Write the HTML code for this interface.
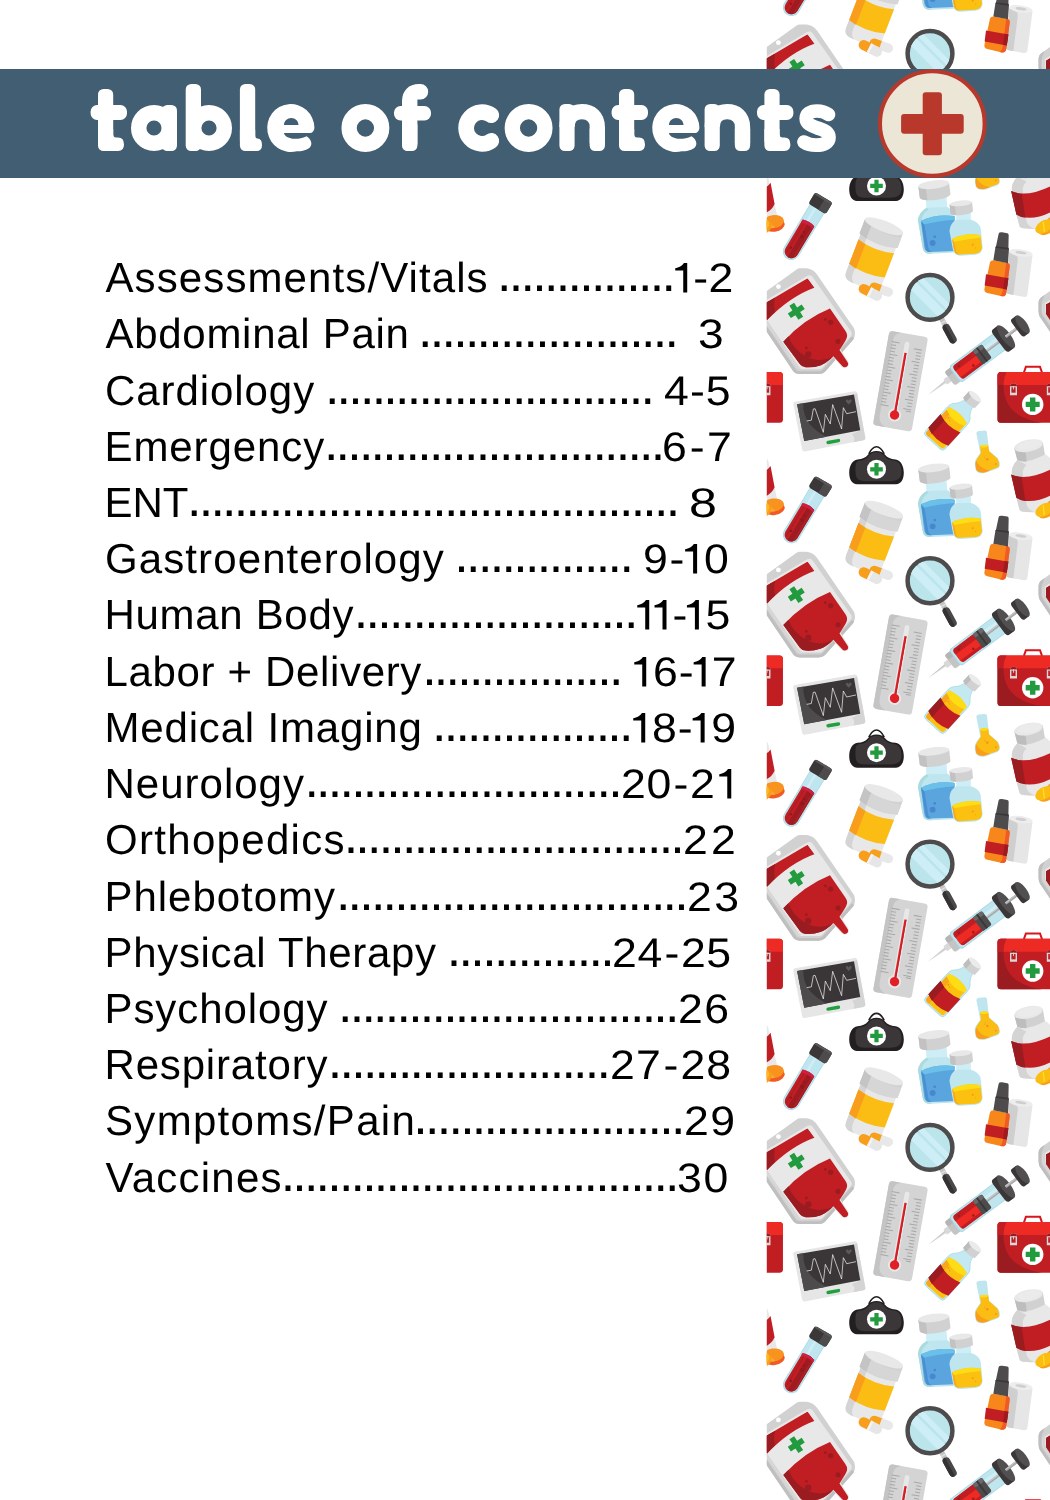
<!DOCTYPE html>
<html><head><meta charset="utf-8"><title>table of contents</title>
<style>
html,body{margin:0;padding:0;background:#fff;}
body{width:1050px;height:1500px;position:relative;overflow:hidden;font-family:"Liberation Sans",sans-serif;}
#strip{position:absolute;left:0;top:0;width:1050px;height:1500px;}
#bar{position:absolute;left:0;top:69px;width:1050px;height:109px;background:#425e73;}
#title{position:absolute;left:0;top:0;width:1050px;height:1500px;}
.ln{position:absolute;left:0;width:760px;height:60px;line-height:60px;font-size:41.3px;color:#000;white-space:pre;text-rendering:geometricPrecision;will-change:transform;}
.ln span{position:absolute;top:0;} .ln svg.one{display:inline;overflow:visible;fill:#000;} .ln i{font-style:normal;}
.ln .lb{font-size:42px;top:-0.24px;} .ln .dt{font-size:52px;top:-3.7px;} .ln .nm{transform:scaleX(1.08);transform-origin:0 0;}
</style></head><body>
<svg id="strip" width="1050" height="1500" viewBox="0 0 1050 1500">
<defs><clipPath id="sc"><rect x="766.8" y="100" width="283.4" height="1400"/></clipPath>
<clipPath id="sct"><rect x="766.8" y="0" width="283.4" height="100"/></clipPath>
<g id="tile">
<!-- blood bag; W4 origin (760,255) -->
<g transform="translate(760,255) scale(0.133333)">
<path d="M-36 355Q-34 332 -20 320L272 110Q285 100 300 100L350 100Q400 105 430 150L705 550Q716 575 710 610Q706 628 695 640L488 875Q470 892 440 893L295 893Q268 893 252 875L-25 465Q-35 450 -36 420Z" fill="#d1d1d1"/>
<!-- darker lower-left / bottom rim -->
<path d="M-36 355Q-34 332 -20 320L10 298L-10 350Q-14 365 -14 420Q-14 440 -8 450L272 860Q282 872 300 872L438 872Q458 872 470 860L690 612L706 625Q702 633 695 640L488 875Q470 892 440 893L295 893Q268 893 252 875L-25 465Q-35 450 -36 420Z" fill="#bfbfbf"/>
<!-- light inner -->
<path d="M-6 370L350 159Q375 145 392 162L685 577Q693 595 679 612L466 850Q458 857 440 857L300 857Q285 857 277 845L-2 440Q-6 432 -6 420Z" fill="#e8e8e8"/>
<path d="M-6 370L14 358L14 420Q14 430 18 437L292 838Q298 845 310 845L300 857Q285 857 277 845L-2 440Q-6 432 -6 420Z" fill="#d6d6d6"/>
<clipPath id="bbc"><path d="M20 372L357 174L646 578L300 860L20 440Z"/></clipPath>
<!-- top red band -->
<g clip-path="url(#bbc)">
<path d="M-40 410Q170 255 357 174L412 243Q225 310 53 488L0 560Z" fill="#c11e24"/>
<path d="M-40 410Q40 350 114 318Q100 370 112 428Q80 458 53 488L0 560Z" fill="#9b1c20"/>
</g>
<!-- outlet outline -->
<path d="M585 700L650 800Q662 822 645 833Q628 842 615 825L545 745Z" fill="none" stroke="#e4e4e4" stroke-width="22" stroke-linejoin="round"/>
<!-- blood -->
<path d="M175 650Q330 480 525 402L640 568Q662 600 648 628Q640 648 596 713L657 805Q668 825 650 838Q630 848 615 830L550 760Q500 810 457 826Q400 846 343 842Q315 840 300 820Z" fill="#c11e24"/>
<path d="M175 650L214 610Q240 680 286 718Q330 760 400 782Q470 800 545 765L550 760Q500 810 457 826Q400 846 343 842Q315 840 300 820Z" fill="#9b1c20"/>
<circle cx="490" cy="483" r="11" fill="#9b1c20"/><circle cx="530" cy="505" r="20" fill="#9b1c20"/><circle cx="585" cy="648" r="19" fill="#9b1c20"/><circle cx="348" cy="698" r="11" fill="#9b1c20"/><circle cx="362" cy="745" r="24" fill="#9b1c20"/>
<!-- cross -->
<g transform="translate(272,422) rotate(-33)"><path d="M-21 -62H21V-21H62V21H21V62H-21V21H-62V-21H-21Z" fill="#229a3e"/></g>
<circle cx="138" cy="237" r="18" fill="#fff"/>
</g>

<!-- test tube -->
<g transform="translate(823.9,197.4) rotate(31)">
<path d="M-8.6 8V63A8.6 8.6 0 0 0 8.6 63V8Z" fill="#a9dbe8"/>
<path d="M-7.8 8V63A7.8 7.8 0 0 0 7.8 63V8Z" fill="#bfe6ef"/>
<path d="M-3.2 8H-0.6V30H-3.2Z" fill="#cdeef6"/>
<path d="M-6.8 30Q0 27.5 6.8 30V63A6.8 6.8 0 0 1 -6.8 63Z" fill="#c01e24"/>
<path d="M-0.5 28.8Q3 28.8 6.8 30V63A6.8 6.8 0 0 1 -0.5 69.7Z" fill="#9e1c21"/>
<path d="M-6.8 30Q0 27.5 6.8 30V33Q0 30.5 -6.8 33Z" fill="#d4204a" opacity=".85"/>
<path d="M-3.8 33V67" stroke="#a81e24" stroke-width="1.1" fill="none"/>
<path d="M5.2 33V66" stroke="#b3222a" stroke-width="1.2" fill="none"/>
<circle cx="1.5" cy="45" r="1.9" fill="#8e181c"/><circle cx="1" cy="40" r="1.1" fill="#8e181c"/><circle cx="-2.5" cy="60" r="1.2" fill="#8e181c"/>
<rect x="-10.2" y="0" width="20.4" height="13.4" rx="2.8" fill="#3b3738"/>
<path d="M1.5 0H7.4A2.8 2.8 0 0 1 10.2 2.8V10.6A2.8 2.8 0 0 1 7.4 13.4H1.5Z" fill="#4d4b4b"/>
<path d="M-7.4 0.3H7.4Q9.4 0.8 9.9 2.2H-9.9Q-9.4 0.8 -7.4 0.3Z" fill="#5a5858"/>
</g>

<!-- nurse cap / bag : centre x 876.5, circle centre y 469.3 -->
<g transform="translate(876.5,469.3)">
<path d="M-7.7 -15.5C-6 -19 -3.5 -22.6 0 -22.6C3.5 -22.6 6 -19 7.7 -15.5" fill="none" stroke="#231f20" stroke-width="1.6"/>
<path d="M0 -18.2C4 -18.2 6.5 -17 8.5 -14.5C11 -11.5 14 -10.3 19 -9.8C24.5 -9 27.3 -3 27.3 3.5C27.3 10 24.5 15 19.5 15H-19.5C-24.5 15 -27.3 10 -27.3 3.5C-27.3 -3 -24.5 -9 -19 -9.8C-14 -10.3 -11 -11.5 -8.5 -14.5C-6.5 -17 -4 -18.2 0 -18.2Z" fill="#231f20"/>
<path d="M0 -17C4 -17 6 -15.5 8 -13C10.5 -10 14 -9 18.5 -8.5C23 -8 25 -3 25 2.5C25 8 22 11.3 16 11.6C8 12 -8 12 -14 11.6C-19 11.3 -21 8 -21 2.5C-21 -3 -21.5 -8 -17.5 -8.5C-13 -9 -10.5 -10 -8 -13C-6 -15.5 -4 -17 0 -17Z" fill="#3b3738"/>
<circle r="9.5" fill="#fff"/>
<path d="M-2.1 -6.3H2.1V-2.1H6.3V2.1H2.1V6.3H-2.1V2.1H-6.3V-2.1H-2.1Z" fill="#229a3e"/>
</g>

<!-- yellow pill bottle ; local frame: origin at centre of cap top ellipse, rotated 21deg -->
<g transform="translate(884,226.3) rotate(21)">
<!-- capsules (behind bottom) drawn later -->
<!-- body -->
<path d="M-19 14V56Q-19 63 -12 63.6Q0 65 12 63.6Q19 63 19 56V14Z" fill="#e8e8e8"/>
<path d="M-19 14V56Q-19 63 -12 63.6Q-9 64 -7.5 64.1Q-12 62 -12 55V14Z" fill="#d4d4d4"/>
<!-- label -->
<path d="M-19 21.5Q0 27 19 21.5V47.5Q0 53 -19 47.5Z" fill="#fbbc13"/>
<path d="M-19 21.5Q-15 22.8 -11 23.5V49.6Q-15 48.8 -19 47.5Z" fill="#f99d1c"/>
<!-- cap -->
<path d="M-20.3 0V15.5Q0 22 20.3 15.5V0Z" fill="#d1d1d1"/>
<path d="M-20.3 0V15.5Q-16 17 -12 17.7V4Z" fill="#c4c4c4"/>
<path d="M-12 6.5Q-12 3.5 -8 4.5Q4 7.5 20.3 5V15.5Q4 20.5 -12 17.7Z" fill="#d6d6d6"/>
<ellipse cx="0" cy="0" rx="20.3" ry="5.6" fill="#e8e8e8"/>
</g>
<!-- capsules -->
<g transform="translate(881.3,289.6) rotate(19)">
<path d="M0 -4.6H-7.6A4.6 4.6 0 0 0 -7.6 4.6H0Z" fill="#f7a11a"/>
<path d="M-1 -4.6H7.6A4.6 4.6 0 0 1 7.6 4.6H-1Z" fill="#e8e8e8"/>
</g>
<g transform="translate(870.3,292.3) rotate(27)">
<path d="M0 -5H-7.5A5 5 0 0 0 -7.5 5H0Z" fill="#f99d1c"/>
<path d="M-1.5 -5H7.5A5 5 0 0 1 7.5 5H-1.5Z" fill="#e6e6e6"/>
<path d="M-1.5 -5H1V5H-1.5Z" fill="#f4f4f4"/>
</g>

<!-- big blue vial ; W3 origin (910,175) scale 1/7.5 -->
<g transform="translate(910,175) scale(0.133333)">
<!-- neck -->
<path d="M118 165L272 150L282 262L125 275Z" fill="#cdeef6"/>
<!-- body -->
<path d="M125 245Q65 280 60 340L95 545Q100 590 150 590L330 582L330 290Q300 250 282 240Z" fill="#bfe6ef"/>
<path d="M125 245Q65 280 60 340L95 545Q100 590 150 590L175 589Q125 585 118 540L85 345Q90 290 140 258Z" fill="#a9dbe0"/>
<!-- liquid -->
<path d="M82 345Q200 290 335 310L335 570L150 577Q112 577 107 540Z" fill="#5aa5de"/>
<path d="M82 345Q200 290 335 310L335 335Q200 345 88 375Z" fill="#6bc0ea"/>
<path d="M82 345L88 375L118 555Q122 577 150 577L165 576Q140 570 136 540L108 372Z" fill="#4a8fd3"/>
<circle cx="170" cy="510" r="22" fill="#4a86d0"/><circle cx="186" cy="463" r="10" fill="#4a86d0"/>
<!-- cap -->
<g transform="translate(178,72) rotate(-7)">
<path d="M-116 0V84A116 32 0 0 0 116 84V0Z" fill="#d1d1d1"/>
<path d="M-116 0V84A116 32 0 0 0 -62 111V26Z" fill="#c2c2c2"/>

<ellipse rx="116" ry="31" fill="#e8e8e8"/>
</g>
</g>
<!-- small yellow vial -->
<g transform="translate(910,175) scale(0.133333)">
<path d="M345 280L455 275L458 355L348 360Z" fill="#cdeef6"/>
<path d="M348 335Q300 360 296 420L322 560Q330 605 380 605L490 598Q540 590 545 545L530 400Q520 355 458 335Z" fill="#bfe6ef"/>
<path d="M316 480Q420 430 528 452L540 545Q535 585 490 590L380 596Q338 596 330 560Z" fill="#fcc010"/>
<path d="M316 480Q420 430 528 452L530 470Q420 480 330 500Z" fill="#ffdd15"/>
<path d="M316 480L330 500L345 565Q350 594 380 596L362 596Q336 590 330 560Z" fill="#f9a61a"/>
<circle cx="470" cy="523" r="7" fill="#f7931e"/><circle cx="492" cy="548" r="4" fill="#f7931e"/>
<g transform="translate(381,212) rotate(-6)">
<path d="M-85 0V66A85 22 0 0 0 85 66V0Z" fill="#d1d1d1"/>
<path d="M-85 0V66A85 22 0 0 0 -45 85V18Z" fill="#c2c2c2"/>
<ellipse rx="85" ry="21" fill="#e8e8e8"/>
</g>
</g>

<!-- bandage roll behind dropper; W3 origin (910,175) -->
<g transform="translate(910,175) scale(0.133333)">
<path d="M745 580Q750 555 790 555L880 572Q920 580 918 610L880 900Q876 918 850 914L740 893Q720 890 724 870Z" fill="#e6e6e6"/>
<path d="M745 580L724 870Q720 890 740 893L775 900L808 640Q812 610 790 600Z" fill="#cfcfcf"/>
<ellipse cx="832" cy="584" rx="88" ry="26" transform="rotate(8 832 584)" fill="#ededed"/>
<ellipse cx="832" cy="582" rx="42" ry="11" transform="rotate(8 832 582)" fill="#cfcfcf"/>
<!-- dropper bottle -->
<path d="M600 655Q605 640 625 640L735 660Q750 665 748 685L722 885Q718 912 690 910L580 885Q555 878 558 855Z" fill="#f7871a"/>
<path d="M735 660Q750 665 748 685L722 885Q718 912 690 910L672 906Q690 900 694 870L722 658Z" fill="#f15a24"/>
<path d="M570 745L738 775L726 858L560 828Z" fill="#c11e24"/>
<path d="M710 770L738 775L726 858L698 853Z" fill="#9b1c20"/>
<path d="M665 440Q668 428 690 430L730 437Q742 440 740 455L738 545L742 560L735 662L625 640L640 545L645 535Z" fill="#4d4b4b"/>
<path d="M645 535L640 545L742 560L738 545Z" fill="#3b3738"/>
</g>

<!-- red pill bottle at right edge (instance at y 440-511); origin (990,430) scale .06 -->
<g transform="translate(990,430) scale(0.06)">
<path d="M455 500C400 560 365 620 362 700L440 1130L490 1320Q500 1365 600 1365Q900 1385 1150 1330Q1195 1320 1190 1280L1169 1122L1029 525Q1010 450 915 400Z" fill="#e8e8e8"/>
<path d="M455 500C400 560 365 620 362 700L440 1130L490 1320Q500 1365 600 1365L760 1372Q640 1340 610 1250L545 720Q545 640 610 585Z" fill="#d4d4d4"/>
<path d="M352 740Q520 815 760 755Q900 715 1004 662Q1040 640 1065 602L1132 955Q1090 1050 1004 1095Q800 1200 590 1182Q500 1172 440 1130Z" fill="#c11e24"/>
<path d="M352 740Q440 778 528 785L590 1182Q500 1172 440 1130Z" fill="#9b1c20"/>
<!-- cap -->
<path d="M405 300L455 500Q620 570 915 410L880 200Z" fill="#d1d1d1"/>
<path d="M405 300L455 500Q520 528 610 528L600 400Q590 370 560 360Z" fill="#bdbdbd"/>
<ellipse cx="642" cy="262" rx="242" ry="100" transform="rotate(-11 642 262)" fill="#e8e8e8"/>
<ellipse cx="660" cy="250" rx="200" ry="75" transform="rotate(-11 660 250)" fill="#ebebeb"/>
</g>
<!-- orange pill (behind) -->
<g transform="translate(1056.7,505) rotate(-8)">
<ellipse cx="0.3" cy="3.6" rx="10.6" ry="6.5" fill="#f15a24"/>
<ellipse cx="0" cy="0" rx="10.6" ry="6.5" fill="#f7931e"/>
<path d="M-7 -4.5L1 6.3L-2.5 6.4L-9 -3Z" fill="#fbb03b" opacity=".8"/>
</g>
<!-- yellow pill (front) -->
<g transform="translate(1043.9,510) rotate(-33)">
<ellipse cx="1.6" cy="2.6" rx="9.4" ry="6" fill="#f99d1c"/>
<ellipse cx="0" cy="0" rx="9.4" ry="6" fill="#fbbc13"/>
</g>
<path d="M1042.6 505.3L1043.9 505.1L1045 515L1043.7 515.4Z" fill="#ffe01a"/>

<!-- magnifier -->
<g transform="translate(930,297.4)">
<g transform="rotate(-28.5)">
<rect x="-2.6" y="23" width="5.2" height="9" fill="#c4c4c4"/>
<rect x="-2.6" y="27.3" width="5.2" height="1.4" fill="#e0e0e0"/>
<rect x="-3.8" y="30.8" width="7.6" height="21" rx="3.7" fill="#4a4848"/>
<path d="M0.3 30.8H-0.1A3.7 3.7 0 0 0 -3.8 34.5V48.1A3.7 3.7 0 0 0 -0.1 51.8H0.3Z" fill="#353233"/>
</g>
<circle r="22.4" fill="#bbe4eb" stroke="#4d4b4b" stroke-width="4.5"/>
<clipPath id="mgc"><circle r="20.2"/></clipPath>
<g clip-path="url(#mgc)" transform="rotate(45)">
<rect x="-30" y="-1" width="60" height="9" fill="#cdeef6"/>
<rect x="-30" y="-9" width="60" height="5.5" fill="#cdeef6"/>
</g>
</g>

<!-- thermometer -->
<g transform="translate(900.5,381.2) rotate(10)">
<rect x="-19.6" y="-47.9" width="39.2" height="95.8" rx="3.5" fill="#d4d4d4"/>
<path d="M-16.1 -47.9H-8Q-14 -46 -14.5 -40V38Q-14.5 45 -7 47.9H-16.1A3.5 3.5 0 0 1 -19.6 44.4V-44.4A3.5 3.5 0 0 1 -16.1 -47.9Z" fill="#c4c4c4"/>
<rect x="-2.4" y="-40" width="4.8" height="74" rx="2.4" fill="#e8e8e8"/>
<circle cx="0" cy="34.3" r="6.6" fill="#e8e8e8"/>
<rect x="-1.05" y="-28.7" width="2.1" height="62" fill="#e01f26"/>
<rect x="0.2" y="-28.7" width="0.85" height="62" fill="#c11e24"/>
<circle cx="0" cy="34.3" r="4.7" fill="#e01f26"/>
<g stroke="#a8a8a8" stroke-width="1.05" fill="none">
<path d="M-15.5 -37.5H-7.5M-15.5 -34.3H-10.5M-15.5 -31.1H-10.5M-15.5 -27.9H-10.5M-15.5 -24.7H-7.5M-15.5 -21.5H-10.5M-15.5 -18.3H-10.5M-15.5 -15.1H-10.5M-15.5 -11.9H-7.5M-15.5 -8.7H-10.5M-15.5 -5.5H-10.5M-15.5 -2.3H-10.5M-15.5 0.9H-7.5M-15.5 4.1H-10.5M-15.5 7.3H-10.5M-15.5 10.5H-10.5M-15.5 13.7H-7.5M-15.5 16.9H-10.5M-15.5 20.1H-10.5M-15.5 23.3H-10.5M-15.5 26.5H-7.5"/>
<path d="M15.5 -34.3H7.5M15.5 -31.1H10.5M15.5 -27.9H10.5M15.5 -24.7H10.5M15.5 -21.5H7.5M15.5 -18.3H10.5M15.5 -15.1H10.5M15.5 -11.9H10.5M15.5 -8.7H7.5M15.5 -5.5H10.5M15.5 -2.3H10.5M15.5 0.9H10.5M15.5 4.1H7.5M15.5 7.3H10.5M15.5 10.5H10.5M15.5 13.7H10.5M15.5 16.9H7.5M15.5 20.1H10.5M15.5 23.3H10.5M15.5 26.5H7.5M15.5 28.5H10.5"/>
</g>
</g>

<!-- syringe: tip at (928,395) axis angle -36.8 -->
<g transform="translate(928,395) rotate(-36.8)">
<path d="M0 0L24 -1.4V1.4Z" fill="#dcdcdc"/>
<path d="M0 0L24 -1.4V0Z" fill="#c8c8c8"/>
<rect x="21.5" y="-3.2" width="7" height="6.4" rx="1" fill="#d9d9d9"/>
<rect x="27" y="-8.6" width="11" height="17.2" rx="2.5" fill="#c4c4c4"/>
<rect x="27" y="-8.6" width="11" height="6" rx="2.5" fill="#b5b5b5"/>
<!-- barrel -->
<path d="M36 -10.4Q33.5 -10 33.5 -6V6Q33.5 10 36 10.4H95V-10.4Z" fill="#a9dbe8"/>
<path d="M36.6 -9.5Q34.4 -9 34.4 -5.5V5.5Q34.4 9 36.6 9.5H95V-9.5Z" fill="#bfe6ef"/>
<rect x="60" y="-5" width="35" height="3.5" fill="#cdeef6"/>
<!-- rod -->
<rect x="70" y="-1.3" width="40" height="2.6" fill="#a8a8a8"/>
<rect x="70" y="-1.3" width="40" height="1.1" fill="#c8c8c8"/>
<!-- liquid -->
<path d="M39 -8.2Q36.3 -7.8 36.3 -4.5V4.5Q36.3 7.8 39 8.2H65V-8.2Z" fill="#ee2a24"/>
<path d="M39 -8.2Q36.3 -7.8 36.3 -4.5V-2.5H65V-8.2Z" fill="#c11e24"/>
<path d="M37 5.2H65V8.2H39Q37.2 7.8 37 5.2Z" fill="#c11e24"/>
<circle cx="42" cy="-5" r="1.3" fill="#9b1c20"/><circle cx="44.5" cy="-6.2" r="0.7" fill="#9b1c20"/><circle cx="54" cy="3.5" r="1.3" fill="#9b1c20"/>
<!-- plunger head -->
<rect x="62" y="-8.6" width="11.5" height="17.2" rx="2" fill="#4d4b4b"/>
<rect x="62" y="-8.6" width="11.5" height="4.5" rx="2" fill="#6a6868"/>
<rect x="66.5" y="-8.6" width="1.8" height="17.2" fill="#3b3738"/>
<!-- flange -->
<path d="M91.5 -13.8H97.5V13.8H91.5Q88.5 13.8 88.5 9.5V-9.5Q88.5 -13.8 91.5 -13.8Z" fill="#3b3738"/>
<ellipse cx="97.5" cy="0" rx="4.6" ry="13.8" fill="#514f4f"/>
<rect x="97" y="-1.3" width="16" height="2.6" fill="#a8a8a8"/>
<rect x="97" y="-1.3" width="16" height="1.1" fill="#c8c8c8"/>
<!-- thumb -->
<path d="M113 -10.8H118V10.8H113Q110.3 10.8 110.3 7V-7Q110.3 -10.8 113 -10.8Z" fill="#3b3738"/>
<ellipse cx="118" cy="0" rx="4.2" ry="10.8" fill="#514f4f"/>
</g>

<!-- first aid kit: x 997.5..1065.2, y 372.1..422.7 -->
<g>
<path d="M1023.9 372.5L1025.9 366.8H1040L1042 372.5" fill="none" stroke="#d7161e" stroke-width="2"/>
<rect x="997.5" y="372.1" width="68.8" height="50.6" rx="3.5" fill="#c11e24"/>
<path d="M1001 372.1H1062.8A3.5 3.5 0 0 1 1066.3 375.6V385H997.5V375.6A3.5 3.5 0 0 1 1001 372.1Z" fill="#ee2a24"/>
<path d="M997.5 375.6A3.5 3.5 0 0 1 1001 372.1H1006.5Q1003.5 378 1003.5 385H997.5Z" fill="#c11e24"/>
<path d="M997.5 385H1003.5Q1003.5 412 1030 420Q1036 422 1042 422.7H1001A3.5 3.5 0 0 1 997.5 419.2Z" fill="#9b1c20"/>
<!-- latches -->
<g id="latch"><path d="M1010 386.5Q1010 383.3 1013.5 383.3Q1017 383.3 1017 386.5V395.2H1010Z" fill="#d9d9d9"/>
<path d="M1010 386.2Q1010 383.3 1013.5 383.3Q1017 383.3 1017 386.2Z" fill="#9b1c20"/>
<rect x="1011.4" y="387.3" width="4.2" height="5.4" fill="#c11e24"/><rect x="1013.1" y="386" width="0.9" height="3.4" fill="#d9d9d9"/></g>
<use href="#latch" x="36.8"/>
<circle cx="1032.7" cy="404.4" r="10.7" fill="#fff"/>
<path d="M1030 397.4H1035.4V401.7H1039.7V407.1H1035.4V411.4H1030V407.1H1025.7V401.7H1030Z" fill="#229a3e"/>
</g>

<!-- monitor; W7 origin (760,345) -->
<g transform="translate(760,345) scale(0.133333)">
<path d="M262 425L708 347Q725 344 728 360L790 695Q792 712 776 715L335 798Q320 800 316 785L250 445Q248 428 262 425Z" fill="#e6e6e6"/>
<path d="M728 360L790 695Q792 712 776 715L700 729Q720 700 690 670L752 640L705 372L728 360Z" fill="#d4d4d4"/>
<path d="M278 445L705 372L752 640L332 720Z" fill="#3a3637"/>
<path d="M278 445L325 437Q320 520 370 590Q420 650 500 688L332 720Z" fill="#4d4b4b"/>
<path d="M350 570L385 564L400 480L413 478L475 655L490 520L527 592L545 447L612 630L625 470L650 515L720 500" fill="none" stroke="#fff" stroke-width="5" stroke-linejoin="miter"/>
<path d="M665 446L645 425Q640 410 652 408Q662 408 664 418Q668 406 680 406Q692 410 686 425Z" fill="#5a5858"/>
<rect x="497" y="711" width="105" height="26" rx="13" transform="rotate(-10 549 724)" fill="#22a040"/>
</g>

<!-- yellow/red bottle -->
<g transform="translate(972,399.7) rotate(42.3)">
<path d="M-5.5 4C-6 10 -9 13 -11.5 15.5Q-13.4 18 -13.4 22V54Q-13.4 58 -9.5 58H9.5Q13.4 58 13.4 54V22Q13.4 18 11.5 15.5C9 13 6 10 5.5 4Z" fill="#c4e9f1" stroke="#a9dbe8" stroke-width="0.8"/>
<path d="M-12 21Q0 16.5 12 21V53.5Q12 56.6 9 56.6H-9Q-12 56.6 -12 53.5Z" fill="#fcc010"/>
<path d="M-12 21Q0 16.5 12 21V24.5Q0 30 -12 24.5Z" fill="#ffdd15"/>
<path d="M-12 21V53.5Q-12 56.6 -9 56.6H-6.5V26.4Q-9.5 25.6 -12 24.5Z" fill="#f9a61a"/>
<circle cx="-5" cy="29.5" r="0.9" fill="#f7931e"/><circle cx="-2.5" cy="30.5" r="0.6" fill="#f7931e"/>
<path d="M-13.4 32Q0 37.5 13.4 32V50Q0 55.5 -13.4 50Z" fill="#c11e24"/>
<path d="M-13.4 32Q-9.5 33.6 -6.5 34.2V52.3Q-9.5 51.6 -13.4 50Z" fill="#9b1c20"/>
<path d="M-7.8 -4.5V4.5Q0 7.5 7.8 4.5V-4.5Z" fill="#d1d1d1"/>
<path d="M-7.8 -4.5V4.5Q-5.5 5.5 -3 5.8V-3Z" fill="#bdbdbd"/>
<ellipse cx="0" cy="-4.5" rx="7.8" ry="2.9" fill="#ebebeb"/>
</g>

<!-- flask; origin (965,425) scale 1/21 -->
<g transform="translate(965,425) scale(0.047619)">
<path d="M238 175Q240 135 290 128L420 118Q460 118 462 160L505 545L690 700Q745 790 730 860Q720 900 680 915L420 1010Q300 1030 245 975Q210 940 205 820Q200 760 240 700L320 590Z" fill="#bfe6ef"/>
<path d="M315 445Q400 400 488 430L505 548L680 702Q730 790 716 850Q708 885 672 900L415 990Q305 1010 255 960Q225 930 222 820Q220 770 250 715L335 590Z" fill="#fbbc13"/>
<ellipse cx="401" cy="443" rx="87" ry="27" transform="rotate(-5 401 443)" fill="#ffdd15"/>
<path d="M232 750Q300 900 520 960L415 990Q305 1010 255 960Q225 930 222 820Z" fill="#f99d1c"/>
<circle cx="468" cy="720" r="27" fill="#f7931e"/><circle cx="415" cy="682" r="12" fill="#f7931e"/><circle cx="650" cy="818" r="20" fill="#f7931e"/><circle cx="428" cy="640" r="7" fill="#f7931e"/>
</g>

</g></defs>
<g clip-path="url(#sct)">
<use href="#tile" x="-283.333" y="-243.903"/>
<use href="#tile" x="0.000" y="-243.903"/>
<use href="#tile" x="283.333" y="-243.903"/>
</g>
<g clip-path="url(#sc)">
<use href="#tile" x="-283.333" y="-283.333"/>
<use href="#tile" x="0.000" y="-283.333"/>
<use href="#tile" x="283.333" y="-283.333"/>
<use href="#tile" x="-283.333" y="0.000"/>
<use href="#tile" x="0.000" y="0.000"/>
<use href="#tile" x="283.333" y="0.000"/>
<use href="#tile" x="-283.333" y="283.333"/>
<use href="#tile" x="0.000" y="283.333"/>
<use href="#tile" x="283.333" y="283.333"/>
<use href="#tile" x="-283.333" y="566.666"/>
<use href="#tile" x="0.000" y="566.666"/>
<use href="#tile" x="283.333" y="566.666"/>
<use href="#tile" x="-283.333" y="849.999"/>
<use href="#tile" x="0.000" y="849.999"/>
<use href="#tile" x="283.333" y="849.999"/>
<use href="#tile" x="-283.333" y="1133.332"/>
<use href="#tile" x="0.000" y="1133.332"/>
<use href="#tile" x="283.333" y="1133.332"/>
</g>
</svg>
<div id="bar"></div>
<svg id="title" width="1050" height="1500" viewBox="0 0 1050 1500">
<defs>
<g id="tt"><rect x="7.4" y="0" width="15.2" height="62" rx="5.5"/><rect x="0" y="16" width="36.4" height="15" rx="6.5"/><path d="M7.4 40V50Q7.4 62 19 62H27.5Q33.4 62 33.4 55.5Q33.4 48.5 27.5 48.5H25.6Q22.6 48.5 22.6 45V40Z"/></g>
<g id="ee"><path fill-rule="evenodd" d="M43 29.1C45.5 29.1 47.6 27 47.6 23.5A23.6 24 0 1 0 30.1 47.2C36 47.5 41 45.5 43 43.5C45 41.5 45 38.5 43.5 36C42.5 34.3 41 33 39.7 32.3C35 34.5 30 35.2 25.5 34.7C21 34 17.5 32 17.2 29.1ZM17.2 21.1H31.7C31.7 17 28.5 13.9 24.5 13.9C20.5 13.9 17.2 17 17.2 21.1Z"/></g>
<g id="nn"><rect x="0" y="0" width="15.2" height="47" rx="5.5"/><path d="M7.6 23C7.6 13 13.5 7.7 22.5 7.7C31.5 7.7 37.9 13 37.9 23V39.3" fill="none" stroke="#fff" stroke-width="15.3" stroke-linecap="butt"/><rect x="30.25" y="20" width="15.3" height="27" rx="5.5"/></g>
</defs>
<g fill="#fff">
<use href="#tt" x="90.6" y="89"/>
<!-- a -->
<circle cx="154" cy="128" r="15.3" fill="none" stroke="#fff" stroke-width="15.4"/><rect x="161.8" y="105" width="15.2" height="46" rx="5.5"/>
<!-- b -->
<rect x="185.7" y="84" width="15.3" height="67" rx="5.5"/><circle cx="209" cy="128" r="15.3" fill="none" stroke="#fff" stroke-width="15.4"/>
<!-- l -->
<rect x="239.9" y="84" width="15.3" height="67" rx="5.5"/><path d="M239.9 130V140Q239.9 151 251 151H256.5Q262 151 262 145Q262 138.5 257.5 138.5Q255.2 138.5 255.2 135V130Z"/>
<use href="#ee" x="266.8" y="104"/>
<!-- o -->
<circle cx="365.4" cy="128" r="16.3" fill="none" stroke="#fff" stroke-width="15.3"/>
<!-- f -->
<path d="M409.7 143.3V101C409.7 95 413 91.7 419 91.7H420.5" fill="none" stroke="#fff" stroke-width="15.4" stroke-linecap="round"/><rect x="394" y="106" width="37" height="14.4" rx="6.5"/>
<rect x="402" y="120" width="15.4" height="31" rx="5.5"/>
<!-- c -->
<path d="M491.3 140.8A15.85 15.85 0 1 1 491.3 115.2" fill="none" stroke="#fff" stroke-width="15.7" stroke-linecap="round"/>
<!-- o -->
<circle cx="528.6" cy="128" r="16.3" fill="none" stroke="#fff" stroke-width="15.3"/>
<use href="#nn" x="559.4" y="104"/>
<use href="#tt" x="611.6" y="89"/>
<use href="#ee" x="651.8" y="104"/>
<use href="#nn" x="704.6" y="104"/>
<use href="#tt" x="757" y="89"/>
<!-- s -->
<path d="M828.5 114.5C825 112 821 111 817 111C810 111 806.2 114 806.2 118.5C806.2 124 812 126 817.5 128C823 130 829 131.5 829 137.5C829 142.5 824 145.2 816 145.2C811 145.2 807 144 804 142" fill="none" stroke="#fff" stroke-width="13.7" stroke-linecap="round"/>
</g>
<!-- plus badge -->
<circle cx="932.3" cy="123.5" r="52.3" fill="#ebe6d6" stroke="#b8392b" stroke-width="4"/>
<rect x="922.7" y="92.3" width="19.2" height="62.9" rx="3" fill="#b8392b"/>
<rect x="901.1" y="114" width="62.6" height="19.7" rx="3" fill="#b8392b"/>
</svg>

<div class="ln" style="top:248.10px"><span class="lb" style="left:105.50px;letter-spacing:1.103px">Assessments/Vitals</span><span class="dt" style="left:496.95px;letter-spacing:-2.700px">...............</span><span class="nm" style="left:671.99px"><svg class="one" width="11.1" height="29.4" viewBox="0 0 11.1 29.4" style="margin:0 6.05px 0 3.3px"><path d="M11.1 0V29.4H7.4V7.6H0V5.2Q5.3 4.5 8.1 0Z"/></svg><i style="margin-left:-0.80px;letter-spacing:0.45px">-</i><i style="letter-spacing:-0.50px">2</i></span></div>
<div class="ln" style="top:304.33px"><span class="lb" style="left:105.50px;letter-spacing:0.706px">Abdominal Pain</span><span class="dt" style="left:417.94px;letter-spacing:-2.711px">......................</span><span class="nm" style="left:698.20px;transform:scaleX(1.116)"><i style="letter-spacing:0.45px">3</i></span></div>
<div class="ln" style="top:360.55px"><span class="lb" style="left:105.00px;letter-spacing:0.929px">Cardiology</span><span class="dt" style="left:324.88px;letter-spacing:-2.757px">............................</span><span class="nm" style="left:664.39px"><i style="letter-spacing:-0.28px">4</i><i style="margin-left:1.50px;letter-spacing:0.67px">-</i><i style="letter-spacing:-0.28px">5</i></span></div>
<div class="ln" style="top:416.78px"><span class="lb" style="left:104.50px;letter-spacing:0.922px">Emergency</span><span class="dt" style="left:323.88px;letter-spacing:-2.773px">.............................</span><span class="nm" style="left:662.38px"><i style="letter-spacing:1.20px">6</i><i style="margin-left:1.50px;letter-spacing:2.15px">-</i><i style="letter-spacing:1.20px">7</i></span></div>
<div class="ln" style="top:473.00px"><span class="lb" style="left:104.50px;letter-spacing:-0.031px">ENT</span><span class="dt" style="left:187.07px;letter-spacing:-2.773px">..........................................</span><span class="nm" style="left:688.95px;transform:scaleX(1.214)"><i style="letter-spacing:0.45px">8</i></span></div>
<div class="ln" style="top:529.23px"><span class="lb" style="left:105.00px;letter-spacing:1.104px">Gastroenterology</span><span class="dt" style="left:454.32px;letter-spacing:-2.657px">...............</span><span class="nm" style="left:642.88px"><i style="letter-spacing:0.01px">9</i><i style="margin-left:1.50px;letter-spacing:-2.79px">-</i><svg class="one" width="11.1" height="29.4" viewBox="0 0 11.1 29.4" style="margin:0 6.56px 0 3.3px"><path d="M11.1 0V29.4H7.4V7.6H0V5.2Q5.3 4.5 8.1 0Z"/></svg><i style="letter-spacing:0.01px">0</i></span></div>
<div class="ln" style="top:585.45px"><span class="lb" style="left:104.50px;letter-spacing:0.683px">Human Body</span><span class="dt" style="left:353.66px;letter-spacing:-2.696px">........................</span><span class="nm" style="left:634.09px"><svg class="one" width="11.1" height="29.4" viewBox="0 0 11.1 29.4" style="margin:0 1.79px 0 3.3px"><path d="M11.1 0V29.4H7.4V7.6H0V5.2Q5.3 4.5 8.1 0Z"/></svg><svg class="one" width="11.1" height="29.4" viewBox="0 0 11.1 29.4" style="margin:0 5.89px 0 3.3px"><path d="M11.1 0V29.4H7.4V7.6H0V5.2Q5.3 4.5 8.1 0Z"/></svg><i style="margin-left:-0.80px;letter-spacing:-3.46px">-</i><svg class="one" width="11.1" height="29.4" viewBox="0 0 11.1 29.4" style="margin:0 5.89px 0 3.3px"><path d="M11.1 0V29.4H7.4V7.6H0V5.2Q5.3 4.5 8.1 0Z"/></svg><i style="letter-spacing:-0.66px">5</i></span></div>
<div class="ln" style="top:641.67px"><span class="lb" style="left:104.50px;letter-spacing:0.654px">Labor + Delivery</span><span class="dt" style="left:422.19px;letter-spacing:-2.775px">.................</span><span class="nm" style="left:631.39px"><svg class="one" width="11.1" height="29.4" viewBox="0 0 11.1 29.4" style="margin:0 5.92px 0 3.3px"><path d="M11.1 0V29.4H7.4V7.6H0V5.2Q5.3 4.5 8.1 0Z"/></svg><i style="letter-spacing:-0.63px">6</i><i style="margin-left:1.50px;letter-spacing:-3.43px">-</i><svg class="one" width="11.1" height="29.4" viewBox="0 0 11.1 29.4" style="margin:0 5.92px 0 3.3px"><path d="M11.1 0V29.4H7.4V7.6H0V5.2Q5.3 4.5 8.1 0Z"/></svg><i style="letter-spacing:-0.63px">7</i></span></div>
<div class="ln" style="top:697.90px"><span class="lb" style="left:104.50px;letter-spacing:0.829px">Medical Imaging</span><span class="dt" style="left:432.03px;letter-spacing:-2.759px">.................</span><span class="nm" style="left:630.19px"><svg class="one" width="11.1" height="29.4" viewBox="0 0 11.1 29.4" style="margin:0 6.01px 0 3.3px"><path d="M11.1 0V29.4H7.4V7.6H0V5.2Q5.3 4.5 8.1 0Z"/></svg><i style="letter-spacing:-0.54px">8</i><i style="margin-left:1.50px;letter-spacing:-3.34px">-</i><svg class="one" width="11.1" height="29.4" viewBox="0 0 11.1 29.4" style="margin:0 6.01px 0 3.3px"><path d="M11.1 0V29.4H7.4V7.6H0V5.2Q5.3 4.5 8.1 0Z"/></svg><i style="letter-spacing:-0.54px">9</i></span></div>
<div class="ln" style="top:754.12px"><span class="lb" style="left:104.50px;letter-spacing:0.998px">Neurology</span><span class="dt" style="left:304.41px;letter-spacing:-2.759px">...........................</span><span class="nm" style="left:620.58px"><i style="letter-spacing:0.59px">2</i><i style="letter-spacing:0.59px">0</i><i style="margin-left:1.50px;letter-spacing:1.54px">-</i><i style="letter-spacing:0.59px">2</i><svg class="one" width="11.1" height="29.4" viewBox="0 0 11.1 29.4" style="margin:0 7.14px 0 3.3px"><path d="M11.1 0V29.4H7.4V7.6H0V5.2Q5.3 4.5 8.1 0Z"/></svg></span></div>
<div class="ln" style="top:810.35px"><span class="lb" style="left:105.00px;letter-spacing:1.310px">Orthopedics</span><span class="dt" style="left:343.69px;letter-spacing:-2.782px">.............................</span><span class="nm" style="left:683.08px"><i style="letter-spacing:2.89px">2</i><i style="letter-spacing:2.89px">2</i></span></div>
<div class="ln" style="top:866.58px"><span class="lb" style="left:104.50px;letter-spacing:0.956px">Phlebotomy</span><span class="dt" style="left:335.88px;letter-spacing:-2.778px">..............................</span><span class="nm" style="left:686.78px"><i style="letter-spacing:2.19px">2</i><i style="letter-spacing:2.19px">3</i></span></div>
<div class="ln" style="top:922.80px"><span class="lb" style="left:104.50px;letter-spacing:0.682px">Physical Therapy</span><span class="dt" style="left:446.72px;letter-spacing:-2.630px">..............</span><span class="nm" style="left:612.28px"><i style="letter-spacing:0.56px">2</i><i style="letter-spacing:0.56px">4</i><i style="margin-left:1.50px;letter-spacing:1.51px">-</i><i style="letter-spacing:0.56px">2</i><i style="letter-spacing:0.56px">5</i></span></div>
<div class="ln" style="top:979.03px"><span class="lb" style="left:104.50px;letter-spacing:0.909px">Psychology</span><span class="dt" style="left:338.07px;letter-spacing:-2.770px">.............................</span><span class="nm" style="left:678.28px"><i style="letter-spacing:1.27px">2</i><i style="letter-spacing:1.27px">6</i></span></div>
<div class="ln" style="top:1035.25px"><span class="lb" style="left:104.50px;letter-spacing:0.825px">Respiratory</span><span class="dt" style="left:327.86px;letter-spacing:-2.769px">........................</span><span class="nm" style="left:609.58px"><i style="letter-spacing:1.02px">2</i><i style="letter-spacing:1.02px">7</i><i style="margin-left:1.50px;letter-spacing:1.97px">-</i><i style="letter-spacing:1.02px">2</i><i style="letter-spacing:1.02px">8</i></span></div>
<div class="ln" style="top:1091.47px"><span class="lb" style="left:105.00px;letter-spacing:1.311px">Symptoms/Pain</span><span class="dt" style="left:413.32px;letter-spacing:-2.739px">.......................</span><span class="nm" style="left:684.08px"><i style="letter-spacing:1.24px">2</i><i style="letter-spacing:1.24px">9</i></span></div>
<div class="ln" style="top:1147.70px"><span class="lb" style="left:105.50px;letter-spacing:1.250px">Vaccines</span><span class="dt" style="left:280.66px;letter-spacing:-2.797px">..................................</span><span class="nm" style="left:677.20px"><i style="letter-spacing:1.58px">3</i><i style="letter-spacing:1.58px">0</i></span></div>
</body></html>
